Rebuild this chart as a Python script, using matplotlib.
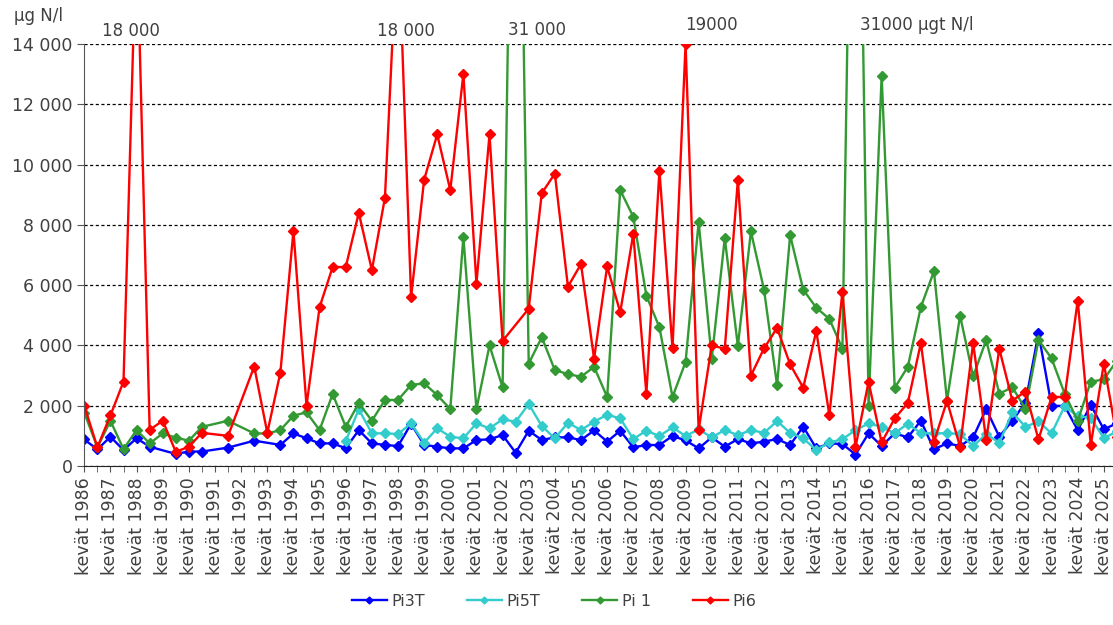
import numpy as np
import matplotlib
matplotlib.use("Agg")
import matplotlib.pyplot as plt
from matplotlib.ticker import FixedLocator, FuncFormatter

plt.rcParams["font.family"] = "DejaVu Sans"
plt.rcParams["text.color"] = "#404040"

# categories: spring (kevät) and autumn samples, 1986 .. 2025
years = list(range(1986, 2026))
categories = []
for y in years:
    categories.append(f"kevät {y}")
    categories.append(f"syksy {y}")

nan = np.nan

pi3t = [880, 550, 970, 530, 920, 640, nan, 400, 480, 480,
        nan, 610, nan, 840, nan, 700, 1080, 920, 750, 750,
        590, 1190, 750, 700, 660, 1400, 700, 640, 585, 585,
        862, 884, 1028, 440, 1170, 862, 950, 950, 862, 1180,
        810, 1170, 620, 696, 696, 995, 850, 585, 950, 641,
        895, 751, 807, 895, 696, 1304, 585, 751, 729, 380,
        1083, 663, 1083, 950, 1503, 553, 751, 663, 950, 1890,
        972, 1503, 2100, 4400, 2000, 1990, 1193, 2022, 1215, 1420]

pi5t = [nan] * 20 + [
        830, 1880, 1083, 1083, 1061, 1414, 774, 1249, 972, 917,
        1414, 1249, 1547, 1470, 2055, 1326, 917, 1437, 1193, 1470,
        1700, 1580, 895, 1171, 995, 1282, 995, 1215, 950, 1193,
        1025, 1190, 1100, 1490, 1100, 915, 530, 780, 890, 1190,
        1410, 1300, 1090, 1400, 1090, 1080, 1090, 1060, 660, 1060,
        770, 1780, 1300, 1480, 1080, 1985, 1650, 1600, 920, 1150]

pi1 = [1770, 620, 1500, 560, 1190, 750, 1080, 940, 840, 1300,
       nan, 1500, nan, 1080, 1080, 1190, 1670, 1780, 1190, 2390,
       1300, 2090, 1500, 2190, 2190, 2690, 2740, 2350, 1890, 7600,
       1890, 4000, 2610, 31000, 3400, 4270, 3180, 3050, 2960, 3290,
       2290, 9150, 8270, 5650, 4600, 2290, 3450, 8100, 3560, 7560,
       3980, 7780, 5850, 2680, 7660, 5850, 5250, 4880, 3890, 31000,
       1990, 12950, 2590, 3290, 5270, 6460, 2170, 4990, 2970, 4180,
       2400, 2610, 1900, 4180, 3570, 2400, 1500, 2800, 2870, 3500]

pi6 = [2000, 620, 1680, 2800, 18000, 1200, 1500, 470, 640, 1100,
       nan, 1000, nan, 3300, 1100, 3100, 7800, 2000, 5270, 6600,
       6600, 8400, 6500, 8900, 18000, 5600, 9500, 11000, 9150, 13000,
       6050, 11000, 4150, nan, 5220, 9050, 9700, 5950, 6700, 3560,
       6620, 5100, 7700, 2400, 9800, 3900, 14000, 1200, 4000, 3890,
       9480, 3000, 3900, 4580, 3370, 2600, 4480, 1690, 5780, 630,
       2790, 780, 1580, 2090, 4080, 790, 2160, 640, 4080, 860,
       3890, 2170, 2470, 880, 2290, 2290, 5490, 700, 3400, 950]

series = [("Pi3T", pi3t, "#0000ff"),
          ("Pi5T", pi5t, "#33cccc"),
          ("Pi 1", pi1, "#339933"),
          ("Pi6", pi6, "#ff0000")]

fig = plt.figure(figsize=(11.13, 6.25), dpi=100)
ax = fig.add_axes([84.3 / 1113, 1 - 466 / 625, 1 - 84.3 / 1113, (466 - 44) / 625])

x = np.arange(len(categories))
for name, vals, col in series:
    v = np.array(vals, dtype=float)
    m = ~np.isnan(v)
    # gaps are bridged like in the original spreadsheet chart
    ax.plot(x[m], v[m], color=col, lw=1.7, marker="D", ms=5, label=name)

ax.set_ylim(0, 14000)
ax.set_xlim(0, 78.7)
ax.set_yticks(np.arange(0, 14001, 2000))
ax.yaxis.set_major_formatter(FuncFormatter(lambda v, p: f"{int(v):,}".replace(",", " ")))
ax.grid(axis="y", color="black", lw=0.9, ls=(0, (2.5, 2)))
ax.set_axisbelow(True)

ax.xaxis.set_major_locator(FixedLocator(x[::2]))
ax.xaxis.set_minor_locator(FixedLocator(x))
ax.set_xticklabels(categories[::2], rotation=90, fontsize=12.5, color="#404040")
ax.tick_params(axis="x", which="both", direction="out", length=4, color="#555555", pad=4)
ax.tick_params(axis="y", direction="out", length=5, color="#555555", labelsize=12.5, labelcolor="#404040")

for s in ["top", "right"]:
    ax.spines[s].set_visible(False)
ax.spines["left"].set_color("#555555")
ax.spines["bottom"].set_color("#222222")

fig.text(38 / 1113, 1 - 16 / 625, "µg N/l", fontsize=12, ha="center", va="center")
fig.text(131 / 1113, 1 - 31 / 625, "18 000", fontsize=12, ha="center", va="center")
fig.text(406 / 1113, 1 - 31 / 625, "18 000", fontsize=12, ha="center", va="center")
fig.text(537 / 1113, 1 - 30 / 625, "31 000", fontsize=12, ha="center", va="center")
fig.text(711 / 1113, 1 - 25 / 625, "19000", fontsize=12, ha="center", va="center")
fig.text(917 / 1113, 1 - 25 / 625, "31000 µgt N/l", fontsize=12, ha="center", va="center")

leg = fig.legend(loc="center", bbox_to_anchor=(554 / 1113, 1 - 601 / 625), ncol=4,
                 frameon=False, fontsize=11.5, handlelength=2.2, columnspacing=2.6,
                 handletextpad=0.3, markerscale=0.7)
for t in leg.get_texts():
    t.set_color("#404040")

fig.savefig("out.png", dpi=100)
